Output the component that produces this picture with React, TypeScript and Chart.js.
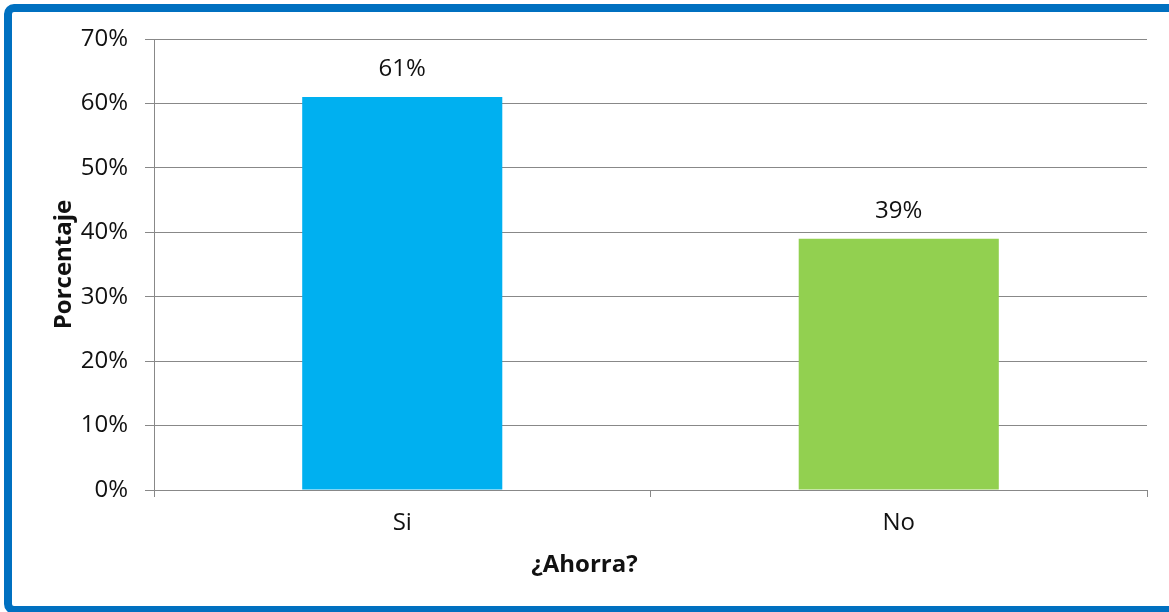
import React, { useEffect, useRef } from "react";
import { Chart, registerables } from "chart.js";

Chart.register(...registerables);

const categories = ["Si", "No"];
const values = [61, 39];
const barColors = ["#00B0F0", "#92D050"];
const yTicks = [0, 10, 20, 30, 40, 50, 60, 70];
const xTitle = "¿Ahorra?";
const yTitle = "Porcentaje";

const FONT = "'Open Sans', 'DejaVu Sans', sans-serif";
const GRID = "#888888";
const TEXT = "#111111";
const FS = 24;
const FRAME = "#0070C0";

const frameAndLabels = {
  id: "frameAndLabels",
  afterDatasetsDraw(chart: any) {
    const ctx = chart.ctx;
    const meta = chart.getDatasetMeta(0);
    ctx.save();
    ctx.font = `${FS}px ${FONT}`;
    ctx.fillStyle = TEXT;
    ctx.textAlign = "center";
    ctx.textBaseline = "middle";
    meta.data.forEach((el: any, i: number) => {
      ctx.fillText(values[i] + "%", el.x, el.y - 28);
    });
    // x axis title, centred on the whole chart
    ctx.font = `bold ${FS}px ${FONT}`;
    ctx.fillText(xTitle, chart.width / 2, 565);
    ctx.restore();
  },
  afterDraw(chart: any) {
    // outer frame: left, top and bottom sides; the right side runs past the picture
    const ctx = chart.ctx;
    ctx.save();
    ctx.strokeStyle = FRAME;
    ctx.lineWidth = 8;
    const l = 8, t = 8, b = 610, r = chart.width + 20, rad = 6;
    ctx.beginPath();
    ctx.moveTo(r, t);
    ctx.lineTo(l + rad, t);
    ctx.arcTo(l, t, l, t + rad, rad);
    ctx.lineTo(l, b - rad);
    ctx.arcTo(l, b, l + rad, b, rad);
    ctx.lineTo(r, b);
    ctx.stroke();
    ctx.restore();
  },
};

export default function App() {
  const ref = useRef<HTMLCanvasElement | null>(null);
  useEffect(() => {
    if (!ref.current) return;
    const chart = new Chart(ref.current, {
      type: "bar",
      data: {
        labels: categories,
        datasets: [
          {
            data: values,
            backgroundColor: barColors,
            borderWidth: 0,
            barPercentage: 1,
            categoryPercentage: 0.403,
          },
        ],
      },
      options: {
        animation: false,
        responsive: false,
        maintainAspectRatio: false,
        layout: { padding: { top: 39, right: 22, bottom: 0, left: 0 } },
        plugins: {
          legend: { display: false },
          tooltip: { enabled: false },
        },
        scales: {
          x: {
            grid: {
              drawOnChartArea: false,
              drawTicks: true,
              tickLength: 7,
              color: GRID,
              tickColor: GRID,
              offset: true,
            },
            border: { display: true, color: GRID, width: 1 },
            ticks: {
              color: TEXT,
              font: { family: FONT, size: FS },
              padding: 12,
            },
            title: { display: false },
            afterFit(scale: any) {
              scale.height = 122;
            },
          },
          y: {
            min: 0,
            max: 70,
            afterBuildTicks(scale: any) {
              scale.ticks = yTicks.map((v) => ({ value: v }));
            },
            grid: {
              color: GRID,
              tickColor: GRID,
              drawTicks: true,
              tickLength: 9,
              lineWidth: 1,
            },
            border: { display: true, color: GRID, width: 1 },
            ticks: {
              color: TEXT,
              font: { family: FONT, size: FS },
              padding: 17,
              callback: (v: any) => v + "%",
            },
            title: {
              display: true,
              text: yTitle,
              color: TEXT,
              font: { family: FONT, size: FS, weight: "bold" },
              padding: { top: 50, bottom: 0 },
            },
            afterFit(scale: any) {
              scale.width = 154;
            },
          },
        },
      },
      plugins: [frameAndLabels],
    });
    if ((document as any).fonts && (document as any).fonts.ready) {
      (document as any).fonts.ready.then(() => {
        try {
          chart.update();
        } catch (e) {}
      });
    }
    return () => chart.destroy();
  }, []);

  return (
    <div
      style={{
        position: "fixed",
        left: 0,
        top: 0,
        width: 1169,
        height: 612,
        background: "#ffffff",
        overflow: "hidden",
      }}
    >
      <canvas
        ref={ref}
        width={1169}
        height={612}
        style={{ position: "absolute", left: 0, top: 0, width: 1169, height: 612 }}
      />
    </div>
  );
}
